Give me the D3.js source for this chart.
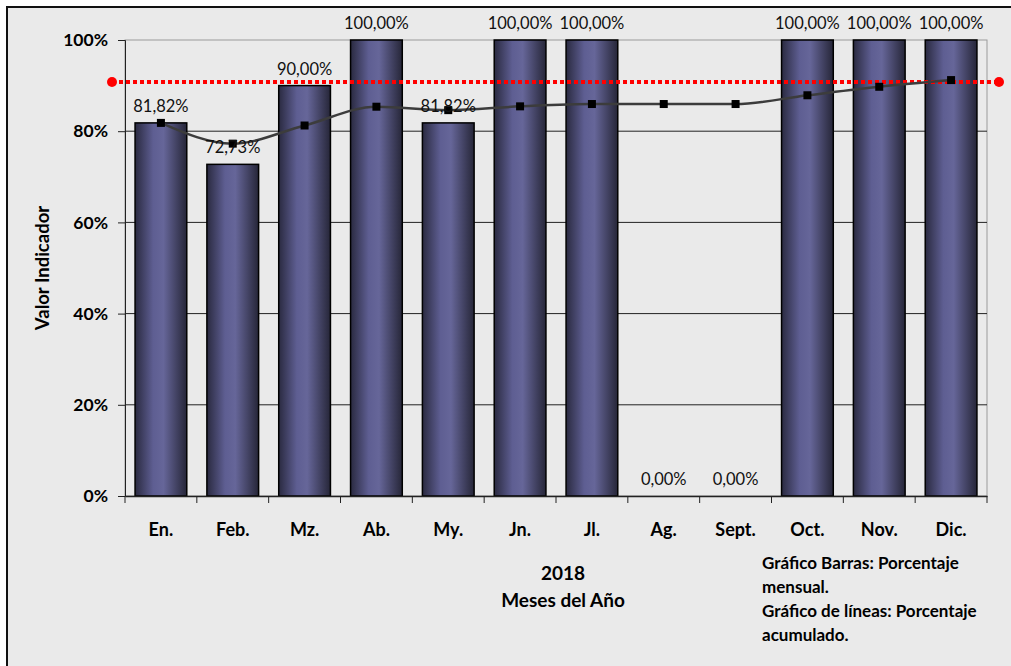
<!DOCTYPE html>
<html>
<head>
<meta charset="utf-8">
<script src="https://cdn.jsdelivr.net/npm/d3@7"></script>
<style>
  body { margin: 0; background: #fff; }
  svg { display: block; font-family: Lato, "Open Sans", sans-serif; }
</style>
</head>
<body>
<svg width="1011" height="666"></svg>
<script>
// data
const months = ['En.', 'Feb.', 'Mz.', 'Ab.', 'My.', 'Jn.', 'Jl.', 'Ag.', 'Sept.', 'Oct.', 'Nov.', 'Dic.'];
const monthly = [81.82, 72.73, 90, 100, 81.82, 100, 100, 0, 0, 100, 100, 100];
const cumulative = [81.82, 77.27, 81.25, 85.37, 84.62, 85.45, 85.96, 85.96, 85.96, 87.88, 89.74, 91.21];
const target = 90.8;
const yTicks = [0, 20, 40, 60, 80, 100];
const notes = ['Gráfico Barras: Porcentaje', 'mensual.', 'Gráfico de líneas: Porcentaje', 'acumulado.'];

const svg = d3.select('svg');
const width = +svg.attr('width');
const height = +svg.attr('height');
const margin = {top: 40, right: 24, bottom: 170, left: 125};
const innerWidth = width - margin.left - margin.right;
const innerHeight = height - margin.top - margin.bottom;

// background frame (only top and left edges show)
svg.append('rect').attr('x', 7).attr('y', 7).attr('width', width - 7).attr('height', height - 7)
  .attr('fill', '#eaeaea');
svg.append('path').attr('d', `M7,${height}V7H${width}`)
  .attr('fill', 'none').attr('stroke', '#111').attr('stroke-width', 2);

const defs = svg.append('defs');
const grad = defs.append('linearGradient').attr('id', 'barGrad')
  .attr('x1', '0%').attr('x2', '100%').attr('y1', '0%').attr('y2', '0%');
grad.append('stop').attr('offset', '0%').attr('stop-color', '#2a2a40');
grad.append('stop').attr('offset', '35%').attr('stop-color', '#5e5e92');
grad.append('stop').attr('offset', '55%').attr('stop-color', '#666699');
grad.append('stop').attr('offset', '100%').attr('stop-color', '#262638');

const g = svg.append('g').attr('transform', `translate(${margin.left},${margin.top})`);

const x = d3.scaleBand().domain(months).range([0, innerWidth]).paddingInner(0.28).paddingOuter(0.14);
const y = d3.scaleLinear().domain([0, 100]).range([innerHeight, 0]);

// plot area border + grid
g.append('rect').attr('width', innerWidth).attr('height', innerHeight)
  .attr('fill', 'none').attr('stroke', '#9a9a9a');
g.append('g').selectAll('line').data(yTicks.slice(1, -1)).join('line')
  .attr('x1', 0).attr('x2', innerWidth)
  .attr('y1', d => y(d)).attr('y2', d => y(d))
  .attr('stroke', '#222').attr('stroke-width', 1);

// bars
g.append('g').selectAll('rect').data(monthly).join('rect')
  .attr('x', (d, i) => x(months[i]))
  .attr('y', d => y(d))
  .attr('width', x.bandwidth())
  .attr('height', d => innerHeight - y(d))
  .attr('fill', 'url(#barGrad)')
  .attr('stroke', '#000').attr('stroke-width', 1.5)
  .attr('display', d => d > 0 ? null : 'none');

// axes
const yAxis = g.append('g').call(d3.axisLeft(y).tickValues(yTicks).tickFormat(d => d + '%').tickSize(7).tickPadding(10));
yAxis.select('.domain').attr('stroke', '#222');
yAxis.selectAll('.tick line').attr('stroke', '#222');
yAxis.selectAll('text').attr('font-size', 17.5).attr('font-weight', 'bold').attr('fill', '#000').attr('font-family', 'Lato, sans-serif');

const xAxis = g.append('g').attr('transform', `translate(0,${innerHeight})`)
  .call(d3.axisBottom(x).tickSize(0).tickPadding(27));
xAxis.select('.domain').attr('stroke', '#222').attr('stroke-width', 1.5);
xAxis.selectAll('text').attr('font-size', 18).attr('font-weight', 'bold').attr('fill', '#000').attr('font-family', 'Lato, sans-serif');
// ticks at band boundaries
const step = x.step();
g.append('g').selectAll('line').data(d3.range(months.length + 1)).join('line')
  .attr('x1', i => i * step).attr('x2', i => i * step)
  .attr('y1', innerHeight).attr('y2', innerHeight + 7)
  .attr('stroke', '#222');

// target line
const ty = y(target);
g.append('line').attr('x1', -13).attr('x2', innerWidth + 12).attr('y1', ty).attr('y2', ty)
  .attr('stroke', '#ff0000').attr('stroke-width', 4).attr('stroke-dasharray', '4,3');
g.selectAll('circle.end').data([-13, innerWidth + 12]).join('circle')
  .attr('class', 'end').attr('cx', d => d).attr('cy', ty).attr('r', 5).attr('fill', '#ff0000');

// cumulative line
const line = d3.line()
  .x((d, i) => x(months[i]) + x.bandwidth() / 2)
  .y(d => y(d))
  .curve(d3.curveMonotoneX);
g.append('path').datum(cumulative).attr('d', line)
  .attr('fill', 'none').attr('stroke', '#3c3c3c').attr('stroke-width', 2.5);
g.append('g').selectAll('rect').data(cumulative).join('rect')
  .attr('x', (d, i) => x(months[i]) + x.bandwidth() / 2 - 4)
  .attr('y', d => y(d) - 4)
  .attr('width', 8).attr('height', 8).attr('fill', '#000');

// bar labels
g.append('g').selectAll('text').data(monthly).join('text')
  .attr('x', (d, i) => x(months[i]) + x.bandwidth() / 2)
  .attr('y', d => y(d) - 11)
  .attr('text-anchor', 'middle')
  .attr('font-size', 16.5).attr('fill', '#111')
  .text(d => d.toFixed(2).replace('.', ',') + '%');

// axis titles
svg.append('text').attr('transform', `translate(49,${margin.top + innerHeight / 2}) rotate(-90)`)
  .attr('text-anchor', 'middle').attr('font-size', 18.5).attr('font-weight', 'bold')
  .text('Valor Indicador');
svg.append('text').attr('x', 563).attr('y', 580).attr('text-anchor', 'middle')
  .attr('font-size', 19).attr('font-weight', 'bold').text('2018');
svg.append('text').attr('x', 563).attr('y', 607).attr('text-anchor', 'middle')
  .attr('font-size', 19).attr('font-weight', 'bold').text('Meses del Año');

// notes
svg.append('g').selectAll('text').data(notes).join('text')
  .attr('x', 762).attr('y', (d, i) => 569 + i * 24)
  .attr('font-size', 17).attr('font-weight', 'bold')
  .text(d => d);
</script>
</body>
</html>
